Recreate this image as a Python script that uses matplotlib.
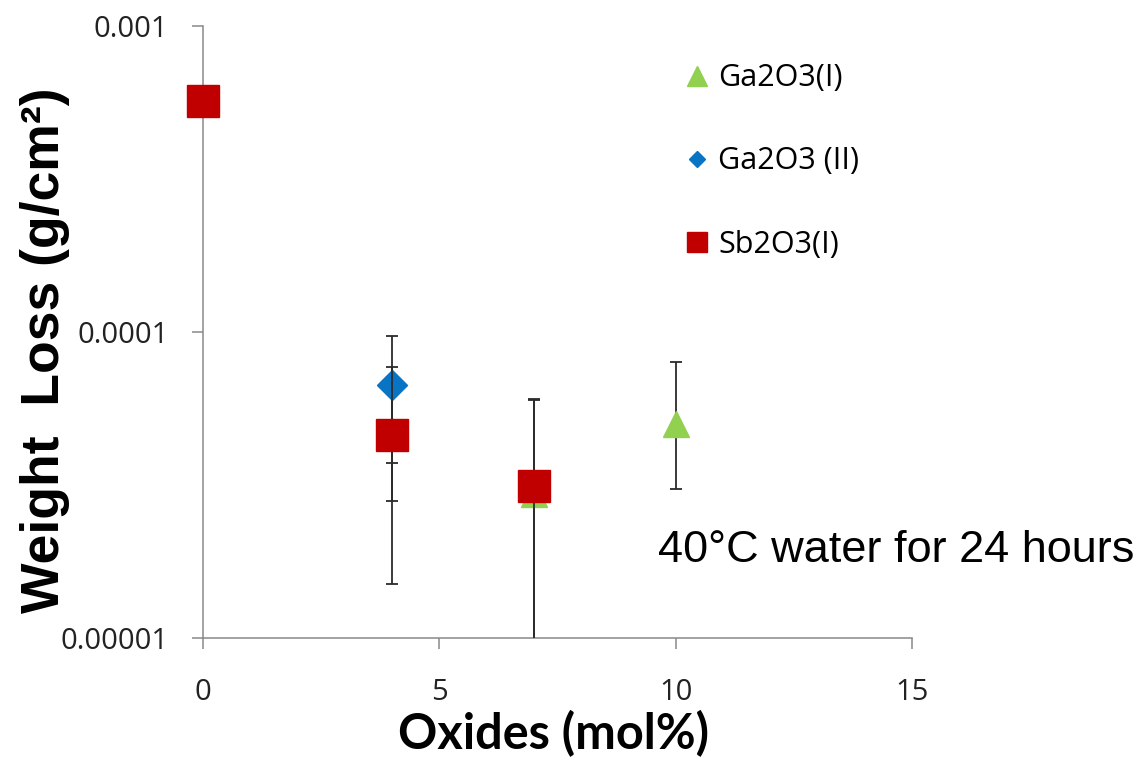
import numpy as np
import matplotlib
matplotlib.use("Agg")
import matplotlib.pyplot as plt
from matplotlib.lines import Line2D

#### Data
ga1_x       = [4, 7, 10]
ga1_y       = [4.75e-5, 2.95e-5, 5.0e-5]
ga1_err_lo  = [1.95e-5, 2.9e-5, 1.93e-5]
ga1_err_hi  = [1.95e-5, 3.1e-5, 2.95e-5]

ga2_x       = [4]
ga2_y       = [6.7e-5]
ga2_err     = [2.97e-5]

sb_x        = [0, 4, 7]
sb_y        = [5.7e-4, 4.6e-5, 3.15e-5]
sb_err      = [0.0, 3.1e-5, 2.85e-5]

labels      = ['Ga2O3(I)', 'Ga2O3 (II)', 'Sb2O3(I)']
colors      = ['#92D050', '#0A74C4', '#C00000']
x_ticks     = [0, 5, 10, 15]
y_ticks     = [1e-5, 1e-4, 1e-3]
y_ticklabels = ['0.00001', '0.0001', '0.001']

#### Figure
fig = plt.figure(figsize=(11.43, 7.61), dpi=100)
ax  = fig.add_axes([203/1143, 1 - 638/761, (912-203)/1143, (638-26)/761])

eb_kw = dict(fmt='none', ecolor='#2b2b2b', elinewidth=1.3, capsize=4.3, capthick=1.3)

#### Error bars (clipped to the axes)
ax.errorbar(ga1_x, ga1_y, yerr=[ga1_err_lo, ga1_err_hi], zorder=2, **eb_kw)
ax.errorbar(ga2_x, ga2_y, yerr=ga2_err, zorder=3, **eb_kw)
ax.errorbar(sb_x, sb_y, yerr=sb_err, zorder=4, **eb_kw)

#### Markers (not clipped, the x=0 square sits on the spine)
ax.plot(ga1_x, ga1_y, ls='none', marker='^', ms=19, mfc=colors[0], mec=colors[0],
        zorder=2.5, clip_on=False)
ax.plot(ga2_x, ga2_y, ls='none', marker='D', ms=15, mfc=colors[1], mec=colors[1],
        zorder=3.5, clip_on=False)
ax.plot(sb_x, sb_y, ls='none', marker='s', ms=23, mfc=colors[2], mec=colors[2],
        zorder=4.5, clip_on=False)

#### Axes options
ax.set_yscale('log')
ax.set_xlim(0, 15)
ax.set_ylim(1e-5, 1e-3)
ax.set_xticks(x_ticks)
ax.set_xticklabels([str(t) for t in x_ticks])
ax.set_yticks(y_ticks)
ax.set_yticklabels(y_ticklabels)
ax.yaxis.set_minor_locator(matplotlib.ticker.NullLocator())
ax.tick_params(axis='x', direction='out', length=8, width=1.1, color='#898989',
               pad=21, labelsize=21, labelcolor='#222222')
ax.tick_params(axis='y', direction='out', length=8, width=1.1, color='#898989',
               pad=17, labelsize=21, labelcolor='#222222')
for lab in ax.get_xticklabels() + ax.get_yticklabels():
    lab.set_family('Open Sans')

for s in ['top', 'right']:
    ax.spines[s].set_visible(False)
for s in ['left', 'bottom']:
    ax.spines[s].set_color('#898989')
    ax.spines[s].set_linewidth(1.1)
ax.patch.set_alpha(0)

#### Labels
fig.text(45/1143, 1 - 350/761, 'Weight  Loss (g/cm\u00b2)', rotation=90,
         ha='center', va='center', fontsize=38.5, fontweight='bold',
         family='Liberation Sans')
fig.text(554/1143, 1 - 734/761, 'Oxides (mol%)', ha='center', va='center',
         fontsize=35, fontweight='bold', family='Lato')
fig.text(658/1143, 1 - 562/761, '40\u00b0C water for 24 hours', ha='left',
         va='baseline', fontsize=32.5, family='Liberation Sans')

#### Legend
handles = [Line2D([], [], ls='none', marker='^', ms=14, mfc=colors[0], mec=colors[0]),
           Line2D([], [], ls='none', marker='D', ms=8.5, mfc=colors[1], mec=colors[1]),
           Line2D([], [], ls='none', marker='s', ms=15, mfc=colors[2], mec=colors[2])]
fig.legend(handles, labels, loc='upper left', bbox_to_anchor=(666/1143, 1 - 48/761),
           frameon=False, labelspacing=1.74, handlelength=1.0, handletextpad=0.2,
           borderpad=0, prop={'family': 'Open Sans', 'size': 22})

fig.savefig('out.png', dpi=100)
